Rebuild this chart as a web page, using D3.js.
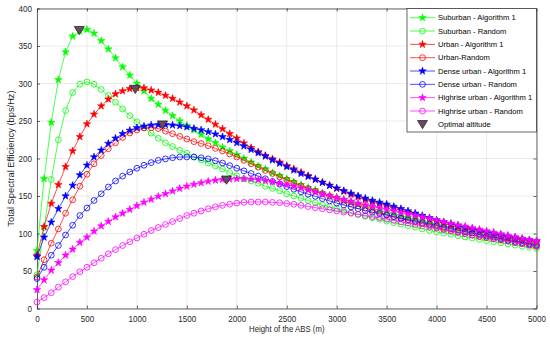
<!DOCTYPE html>
<html><head><meta charset="utf-8">
<script src="https://cdn.jsdelivr.net/npm/d3@7"></script>
<style>
html,body{margin:0;padding:0;background:#fff;}
svg{display:block;font-family:"Liberation Sans",Arial,Helvetica,sans-serif;}
</style></head>
<body>
<svg id="chart" width="550" height="339"></svg>
<script>
const heights = [0,71,143,214,286,357,429,500,571,643,714,786,857,929,1000,1071,1143,1214,1286,1357,1429,1500,1571,1643,1714,1786,1857,1929,2000,2071,2143,2214,2286,2357,2429,2500,2571,2643,2714,2786,2857,2929,3000,3071,3143,3214,3286,3357,3429,3500,3571,3643,3714,3786,3857,3929,4000,4071,4143,4214,4286,4357,4429,4500,4571,4643,4714,4786,4857,4929,5000];

const suburbanAlg = [77,173,248,305,342,363,370,372,367,357,346,334,322,311,300,290,280,272,264,257,250,244,238,232,226,221,215,210,205,200,195,190,186,181,177,173,169,165,161,158,154,151,148,145,142,139,136.5,134,131,128.5,126,123.5,121,119,116.5,114,112,110,108,106,104,102,100,97.5,96,94,92.5,91,89,87.5,86];
const suburbanRand = [45,108,172,225,264,288,299,302,299,292,284,275,266,257,249,241,234,227,221,216,211,207,202,198,194,190,186,181,177,173,170,167,163,160,157,153,150,147,144,141,138,135.5,133,130.5,128,125.5,123,121,119,116.5,114.5,112.5,110.5,108.5,106,104,102,100.5,99,97,95.5,94,92,90.5,89,87.5,86,84.5,83,81.5,80];
const urbanAlg = [71,109,140,165,189,210,229,246,259,270,279,286,290,293,294,294,291,288,284,280,275,270,264.5,258,252,245.5,239.5,233,227,220.5,214.5,209,204,199.5,195,190.5,186,181.5,177,172.5,168,164,160,156,152,148.5,145,142,139.5,137,134,131,128,125,122,119,116,113.5,111,108.5,106,104,102,100,98,96,94,92.5,91,89.5,88];
const urbanRand = [42,65,87,106,127,145,163,179,193,204,213,221,228,234,238,240.5,241,240,236.5,233,229.5,226,222.5,220,217,213.5,210,206,202,197.5,193,188.5,184,180,175.5,171.5,167.5,163.5,160,156.5,153,149.5,146.5,143,140,137,134,131,128,125,122.5,120,117.5,115,113,110.5,108,106,104,102,100,98,96,94.5,93,91.5,90,88,86.5,84.5,83];
const denseAlg = [69,95,115,133,150,164,178,191,202,211,220,227,233,237.5,241,243,244.5,245,245,244.5,243.5,242,240,238,235.5,232.5,229,225,221,216.5,212,207.5,203,198,193.5,189,184.5,180,176,172,168,164,160.5,157,153.5,150,147,144,141.5,139,136,133,130,127,124,121,118,115.5,113,110.5,108,106,104,102,100,98,96,94.5,93,91.5,90];
const denseRand = [40,55,71,84,98,111,124,134,144,153,162,170,176.5,182,187,191,194.5,197.5,199.5,201,202,202,202,201,199.5,197,194,190.5,187,183.5,180,176.5,173,169.5,166,162.5,159,155.5,152.5,149.5,146.5,143.5,140.5,138,135.5,133,130.5,128.5,126.5,124.5,122.5,120.5,118.5,116.5,114.5,112.5,110.5,108.5,106.5,104.5,102.5,100.5,98.5,96.5,95,93,91,89.5,88,86,84.5];
const highriseAlg = [25,38,51,61,71,79,88,95,103,110,116,122,127,132,137,141.5,145.5,149.5,153,156.5,160,163,165.5,167.5,169.5,171,172,172.5,173,173,172.5,171.5,170.5,169,167,165,163,160.5,158,155.5,153,150.5,148,145.5,143,140.5,138,136,134,132,130,128,126,124,122,120,117.5,115.5,113.5,111.5,109.5,107.5,105.5,103.5,101.5,99.5,97.5,95.5,93.5,91.5,90];
const highriseRand = [8.5,14.5,21,28.5,35.5,42.5,49,55,61,67,73,78.5,84,89,94,99,104,108,112,116,120,124,127,130,133,135.5,137.5,139,140.5,141.5,142,142,142,141.5,141,140,139,137.5,136,134.5,133,131.5,130,128.5,127,125.5,124,122.5,121,119,117.5,115.5,114,112,110.5,108.5,107,105,103.5,101.5,100,98,96.5,95,93,91.5,90,88,86.5,84.5,83];

const optimalH = [423, 983, 1257, 1897];
const optimalV = [371, 292.5, 245, 171.5];

const seriesNames = ["Suburban - Algorithm 1","Suburban - Random","Urban - Algorithm 1","Urban-Random","Dense urban - Algorithm 1","Dense urban - Random","Highrise urban - Algorithm 1","Highrise urban - Random"];
const seriesValues = [suburbanAlg, suburbanRand, urbanAlg, urbanRand, denseAlg, denseRand, highriseAlg, highriseRand];
const seriesColors = ["#00ff00","#00ff00","#ff0000","#ff0000","#0000ff","#0000ff","#ff00ff","#ff00ff"];
const seriesMarkers = ["star","circle","star","circle","star","circle","star","circle"];
const optimalLabel = "Optimal altitude";

const xTicks = [0,500,1000,1500,2000,2500,3000,3500,4000,4500,5000];
const yTicks = [0,50,100,150,200,250,300,350,400];
const xTitle = "Height of the ABS (m)";
const yTitle = "Total Spectral Efficiency (bps/Hz)";

const L = 37, R = 536.5, T = 8.5, B = 308.5;
const svg = d3.select("#chart");
const x = d3.scaleLinear().domain([0,5000]).range([L,R]);
const y = d3.scaleLinear().domain([0,400]).range([B,T]);
const axisColor = "#262626";
const sx = 0.88;

// grid
const g = svg.append("g");
g.selectAll("line.gx").data(xTicks).join("line")
  .attr("x1", d=>x(d)).attr("x2", d=>x(d)).attr("y1", T).attr("y2", B)
  .attr("stroke", "#e3e3e3").attr("stroke-width", 0.7);
g.selectAll("line.gy").data(yTicks).join("line")
  .attr("y1", d=>y(d)).attr("y2", d=>y(d)).attr("x1", L).attr("x2", R)
  .attr("stroke", "#e3e3e3").attr("stroke-width", 0.7);

// axes
function styleAxis(sel, hideText){
  sel.selectAll("path").attr("stroke", axisColor).attr("stroke-width", 0.7);
  sel.selectAll("line").attr("stroke", axisColor).attr("stroke-width", 0.7);
  sel.selectAll("text").attr("fill", axisColor).style("font-size","9.2px");
  if(hideText) sel.selectAll("text").remove();
}
const xAx = svg.append("g").attr("transform",`translate(0,${B})`)
  .call(d3.axisBottom(x).tickValues(xTicks).tickSizeInner(-3).tickSizeOuter(0).tickPadding(6.5).tickFormat(d3.format("d")))
  .call(s=>styleAxis(s,false));
xAx.selectAll("text").attr("transform", `scale(${sx},1)`);
svg.append("g").attr("transform",`translate(0,${T})`)
  .call(d3.axisTop(x).tickValues(xTicks).tickSizeInner(-3).tickSizeOuter(0))
  .call(s=>styleAxis(s,true));
const yAx = svg.append("g").attr("transform",`translate(${L},0)`)
  .call(d3.axisLeft(y).tickValues(yTicks).tickSizeInner(-3).tickSizeOuter(0).tickPadding(5).tickFormat(d3.format("d")))
  .call(s=>styleAxis(s,false));
yAx.selectAll("text").attr("x", -5/sx).attr("transform", `scale(${sx},1)`);
svg.append("g").attr("transform",`translate(${R},0)`)
  .call(d3.axisRight(y).tickValues(yTicks).tickSizeInner(-3).tickSizeOuter(0))
  .call(s=>styleAxis(s,true));

// titles
svg.append("g").attr("transform", `translate(${(L+R)/2},332) scale(0.84,1)`)
  .append("text").attr("text-anchor","middle")
  .style("font-size","9.3px").attr("fill", axisColor).text(xTitle);
svg.append("text").attr("transform", `translate(14,${(T+B)/2}) rotate(-90)`).attr("text-anchor","middle")
  .style("font-size","9.3px").attr("fill", axisColor).text(yTitle);

const starSym = d3.symbol().type(d3.symbolStar).size(17);
const line = d3.line().x((d,i)=>x(heights[i])).y(d=>y(d));

function drawMarker(sel, type, color){
  if(type==="star"){
    sel.append("path").attr("d", starSym()).attr("fill", color).attr("stroke", color).attr("stroke-width", 0.6);
  } else {
    sel.append("circle").attr("r", 2.9).attr("fill","none").attr("stroke", color).attr("stroke-width", 0.8);
  }
}

const plot = svg.append("g");
seriesValues.forEach((vals, k)=>{
  const col = seriesColors[k];
  plot.append("path").datum(vals).attr("d", line).attr("fill","none")
    .attr("stroke", col).attr("stroke-width", 0.7);
  const mk = plot.append("g");
  vals.forEach((v,i)=>{
    const m = mk.append("g").attr("transform",`translate(${x(heights[i])},${y(v)})`);
    drawMarker(m, seriesMarkers[k], col);
  });
});

const triPath = "M-5,-3.8L5,-3.8L0,4.4Z";
optimalH.forEach((h,i)=>{
  plot.append("path").attr("d", triPath)
    .attr("transform", `translate(${x(h)},${y(optimalV[i])})`)
    .attr("fill","#664c66").attr("stroke","#1a1a1a").attr("stroke-width",0.7);
});

// legend
const lg = svg.append("g");
lg.append("rect").attr("x",407).attr("y",T).attr("width",R-407).attr("height",132-T)
  .attr("fill","#fff").attr("stroke",axisColor).attr("stroke-width",0.7);
const rowY = i => 17.7 + i*13.33;
seriesNames.forEach((name,k)=>{
  const yy = rowY(k);
  lg.append("line").attr("x1",410).attr("x2",435).attr("y1",yy).attr("y2",yy)
    .attr("stroke",seriesColors[k]).attr("stroke-width",0.7);
  const m = lg.append("g").attr("transform",`translate(422.5,${yy})`);
  drawMarker(m, seriesMarkers[k], seriesColors[k]);
  lg.append("text").attr("x",438).attr("y",yy).attr("dy","0.35em")
    .style("font-size","7.6px").attr("fill","#000").text(name);
});
{
  const yy = rowY(8);
  lg.append("path").attr("d", triPath).attr("transform",`translate(422.5,${yy})`)
    .attr("fill","#664c66").attr("stroke","#1a1a1a").attr("stroke-width",0.7);
  lg.append("text").attr("x",438).attr("y",yy).attr("dy","0.35em")
    .style("font-size","7.6px").attr("fill","#000").text(optimalLabel);
}
</script>
</body></html>
